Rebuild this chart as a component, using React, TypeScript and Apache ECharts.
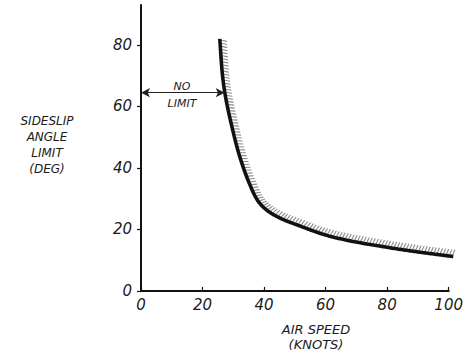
import React, { useEffect, useRef } from "react";
import * as echarts from "echarts";

// Curve: sideslip angle limit (deg) vs air speed (knots)
const airSpeed = [25.6, 26.5, 27.5, 29.3, 32, 35, 38, 41, 45, 51.5, 60, 68, 80, 90, 100, 101.5];
const sideslipLimit = [82, 70, 63, 54.5, 44, 35.5, 29.3, 26.2, 23.8, 21.2, 18.2, 16.3, 14.2, 12.7, 11.4, 11.2];
const xTicks = [0, 20, 40, 60, 80, 100];
const yTicks = [0, 20, 40, 60, 80];
const noLimitY = 64.5;
const noLimitX = [0, 27.2];

const FONT = "DejaVu Sans";

export default function App() {
  const ref = useRef<HTMLDivElement>(null);
  useEffect(() => {
    if (!ref.current) return;
    const chart = echarts.init(ref.current, null, { renderer: "svg" });
    const curve = airSpeed.map((x, i) => [x, sideslipLimit[i]]);

    const renderCurve = (params: any, api: any) => {
      if (params.dataIndex !== 0) return null;
      const pts = curve.map((p) => api.coord(p));
      // centripetal Catmull-Rom through the data points, in pixel space
      const dense: number[][] = [];
      const N = 24;
      for (let i = 0; i < pts.length - 1; i++) {
        const P0 = i === 0 ? [2 * pts[0][0] - pts[1][0], 2 * pts[0][1] - pts[1][1]] : pts[i - 1];
        const P1 = pts[i], P2 = pts[i + 1];
        const P3 = i + 2 < pts.length ? pts[i + 2] : [2 * P2[0] - P1[0], 2 * P2[1] - P1[1]];
        const tj = (ti: number, a: number[], b: number[]) => ti + Math.pow(Math.hypot(b[0] - a[0], b[1] - a[1]), 0.5) + 1e-6;
        const t0 = 0, t1 = tj(t0, P0, P1), t2 = tj(t1, P1, P2), t3 = tj(t2, P2, P3);
        for (let s = 0; s < N; s++) {
          const t = t1 + ((t2 - t1) * s) / N;
          const lerp = (A: number[], B: number[], ta: number, tb: number) => [
            ((tb - t) / (tb - ta)) * A[0] + ((t - ta) / (tb - ta)) * B[0],
            ((tb - t) / (tb - ta)) * A[1] + ((t - ta) / (tb - ta)) * B[1],
          ];
          const A1 = lerp(P0, P1, t0, t1), A2 = lerp(P1, P2, t1, t2), A3 = lerp(P2, P3, t2, t3);
          const B1 = lerp(A1, A2, t0, t2), B2 = lerp(A2, A3, t1, t3);
          dense.push(lerp(B1, B2, t1, t2));
        }
      }
      dense.push(pts[pts.length - 1]);

      const children: any[] = [];
      const spacing = 3.1;
      let acc = 1.5;
      for (let i = 0; i < dense.length - 1; i++) {
        const a = dense[i], b = dense[i + 1];
        const dx = b[0] - a[0], dy = b[1] - a[1];
        const len = Math.hypot(dx, dy);
        if (len === 0) continue;
        const tx = dx / len, ty = dy / len;
        let pos = acc;
        while (pos < len) {
          const px = a[0] + tx * pos, py = a[1] + ty * pos;
          let sx = ty + 0.3 * tx, sy = -tx + 0.3 * ty;
          const sl = Math.hypot(sx, sy);
          sx /= sl; sy /= sl;
          const nx = ty, ny = -tx;
          children.push({
            type: "line",
            shape: {
              x1: px + nx * 1.6, y1: py + ny * 1.6,
              x2: px + nx * 1.6 + sx * 5.5, y2: py + ny * 1.6 + sy * 5.5,
            },
            style: { stroke: "#8a8a8a", lineWidth: 1.1 },
          });
          pos += spacing;
        }
        acc = pos - len;
      }
      children.push({
        type: "polyline",
        shape: { points: dense },
        style: { stroke: "#111", lineWidth: 3.6, fill: null, lineJoin: "round" },
        z2: 5,
      });
      return { type: "group", children };
    };

    chart.setOption({
      animation: false,
      backgroundColor: "#ffffff",
      grid: { left: 141, right: 16, top: 5, bottom: 67, containLabel: false },
      xAxis: {
        type: "value",
        min: 0,
        max: 100,
        interval: 20,
        axisLine: { show: true, lineStyle: { color: "#111", width: 2 } },
        axisTick: { show: true, inside: true, length: 4, lineStyle: { color: "#111", width: 1.2 } },
        splitLine: { show: false },
        axisLabel: {
          margin: 6,
          color: "#1a1a1a",
          fontFamily: FONT,
          fontStyle: "italic",
          fontSize: 15,
          formatter: (v: number) => (xTicks.includes(v) ? String(v) : ""),
        },
      },
      yAxis: {
        type: "value",
        min: 0,
        max: 93,
        interval: 20,
        axisLine: { show: true, lineStyle: { color: "#111", width: 2 } },
        axisTick: { show: true, inside: false, length: 4, customValues: yTicks, lineStyle: { color: "#111", width: 1.2 } },
        splitLine: { show: false },
        axisLabel: {
          margin: 9,
          color: "#1a1a1a",
          fontFamily: FONT,
          fontStyle: "italic",
          fontSize: 15,
          customValues: yTicks,
          formatter: (v: number) => (yTicks.includes(v) ? String(v) : ""),
        },
      },
      series: [
        {
          type: "custom",
          name: "Sideslip angle limit",
          clip: false,
          silent: true,
          data: [[airSpeed[0], sideslipLimit[0]]],
          renderItem: renderCurve,
          z: 2,
        },
        {
          type: "line",
          data: [],
          symbol: "none",
          silent: true,
          markLine: {
            silent: true,
            symbol: ["arrow", "arrow"],
            symbolSize: [7, 9],
            label: { show: false },
            lineStyle: { color: "#222", width: 1, type: "solid" },
            data: [[{ coord: [noLimitX[0], noLimitY] }, { coord: [noLimitX[1], noLimitY] }]],
          },
        },
      ],
      graphic: [
        {
          type: "text",
          x: 182, y: 86,
          style: { text: "NO", fill: "#1a1a1a", font: `italic 11px "${FONT}"`, align: "center", verticalAlign: "middle" },
        },
        {
          type: "text",
          x: 182, y: 103,
          style: { text: "LIMIT", fill: "#1a1a1a", font: `italic 11px "${FONT}"`, align: "center", verticalAlign: "middle" },
        },
        {
          type: "text",
          x: 47, y: 145,
          style: {
            text: "SIDESLIP\nANGLE\nLIMIT\n(DEG)",
            fill: "#1a1a1a",
            font: `italic 12px "${FONT}"`,
            lineHeight: 15.7,
            align: "center",
            verticalAlign: "middle",
          },
        },
        {
          type: "text",
          x: 316, y: 337,
          style: {
            text: "AIR SPEED\n(KNOTS)",
            fill: "#1a1a1a",
            font: `italic 13px "${FONT}"`,
            lineHeight: 15.5,
            align: "center",
            verticalAlign: "middle",
          },
        },
      ],
    });
    return () => chart.dispose();
  }, []);
  return <div ref={ref} style={{ position: "fixed", left: 0, top: 0, width: 466, height: 358 }} />;
}
